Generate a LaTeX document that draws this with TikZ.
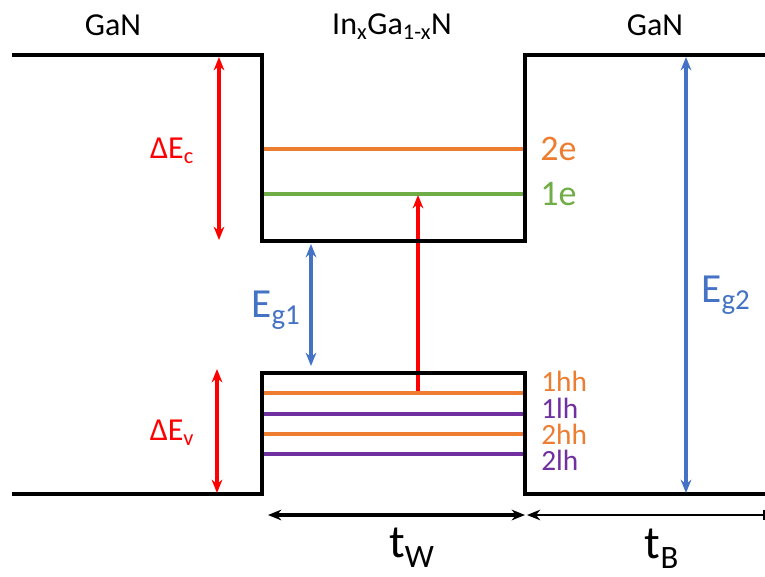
\documentclass[tikz,border=0pt]{standalone}
\usepackage{fontspec}
\setmainfont{Carlito}
\usetikzlibrary{arrows.meta}
\definecolor{cOrange}{HTML}{ED7D31}
\definecolor{cGreen}{HTML}{70AD47}
\definecolor{cPurple}{HTML}{7030A0}
\definecolor{cBlue}{HTML}{4472C4}
\definecolor{cRed}{HTML}{FF0000}
\tikzset{
  band/.style={line width=2.8pt, black, line join=miter},
  level/.style={line width=2.5pt},
  tip/.tip={Stealth[length=10pt,width=8pt]},
  dbl/.style={line width=2.3pt, tip-tip},
  lbl/.style={inner sep=0pt, font=\fontsize{24}{26}\selectfont},
  lvl/.style={inner sep=0pt, anchor=west, font=\fontsize{22}{24}\selectfont},
}
\begin{document}
\begin{tikzpicture}[x=0.75pt,y=-0.75pt]
\useasboundingbox (0,0) rectangle (765,576);
% band corners
\coordinate (cbL) at (12,55);
\coordinate (cb1) at (262,55);
\coordinate (cb2) at (262,241);
\coordinate (cb3) at (525,241);
\coordinate (cb4) at (525,55);
\coordinate (cbR) at (765,55);
\coordinate (vbL) at (12,494);
\coordinate (vb1) at (262,494);
\coordinate (vb2) at (262,373);
\coordinate (vb3) at (525,373);
\coordinate (vb4) at (525,494);
\coordinate (vbR) at (765,494);
% levels
\coordinate (e2a) at (262,149); \coordinate (e2b) at (525,149);
\coordinate (e1a) at (262,194); \coordinate (e1b) at (525,194);
\coordinate (h1a) at (262,393); \coordinate (h1b) at (525,393);
\coordinate (l1a) at (262,414); \coordinate (l1b) at (525,414);
\coordinate (h2a) at (262,434); \coordinate (h2b) at (525,434);
\coordinate (l2a) at (262,454); \coordinate (l2b) at (525,454);
\draw[level,cOrange] (e2a) -- (e2b);
\draw[level,cGreen] (e1a) -- (e1b);
\draw[level,cOrange] (h1a) -- (h1b);
\draw[level,cPurple] (l1a) -- (l1b);
\draw[level,cOrange] (h2a) -- (h2b);
\draw[level,cPurple] (l2a) -- (l2b);
% transition arrow
\coordinate (trA) at (418,391);
\coordinate (trB) at (418,195);
\draw[line width=2.4pt,cRed,-tip] (trA) -- (trB);
% bands
\draw[band] (cbL) -- (cb1) -- (cb2) -- (cb3) -- (cb4) -- (cbR);
\draw[band] (vbL) -- (vb1) -- (vb2) -- (vb3) -- (vb4) -- (vbR);
% double arrows
\coordinate (dcA) at (219,57); \coordinate (dcB) at (219,240);
\coordinate (dvA) at (217,369); \coordinate (dvB) at (217,493);
\coordinate (g1A) at (311,244); \coordinate (g1B) at (311,366);
\coordinate (g2A) at (686,57); \coordinate (g2B) at (686,493);
\draw[dbl,cRed] (dcA) -- (dcB);
\draw[dbl,cRed] (dvA) -- (dvB);
\draw[dbl,cBlue] (g1A) -- (g1B);
\draw[dbl,cBlue] (g2A) -- (g2B);
% thickness arrows
\coordinate (twA) at (268,515); \coordinate (twB) at (525,515);
\coordinate (tbA) at (527,515); \coordinate (tbB) at (765,515);
\draw[line width=2.4pt,tip-tip] (twA) -- (twB);
\draw[line width=1.3pt,tip-{Bar[width=8pt]}] (tbA) -- (tbB);
% labels
\node[lbl] (gan1) at (113,25) {GaN};
\node[lbl] (ingan) at (392,27) {In\textsubscript{x}Ga\textsubscript{1-x}N};
\node[lbl] (gan2) at (655,25) {GaN};
\node[lbl,cRed] (dEc) at (172,151) {ΔE\textsubscript{c}};
\node[lbl,cRed] (dEv) at (172,433) {ΔE\textsubscript{v}};
\node[lbl,cBlue,font=\fontsize{31}{32}\selectfont] (Eg1) at (276,310) {E\textsubscript{g1}};
\node[lbl,cBlue,font=\fontsize{31}{32}\selectfont] (Eg2) at (726,295) {E\textsubscript{g2}};
\node[lvl,cOrange,font=\fontsize{27}{28}\selectfont] (l2e) at (540,149) {2e};
\node[lvl,cGreen,font=\fontsize{27}{28}\selectfont] (l1e) at (540,194) {1e};
\node[lvl,cOrange] (l1hh) at (541,381) {1hh};
\node[lvl,cPurple] (l1lh) at (541,408) {1lh};
\node[lvl,cOrange] (l2hh) at (541,434) {2hh};
\node[lvl,cPurple] (l2lh) at (541,460) {2lh};
\node[lbl,font=\fontsize{35}{36}\selectfont] (tW) at (412,548) {t\textsubscript{W}};
\node[lbl,font=\fontsize{35}{36}\selectfont] (tB) at (662,549) {t\textsubscript{B}};
\end{tikzpicture}
\end{document}
